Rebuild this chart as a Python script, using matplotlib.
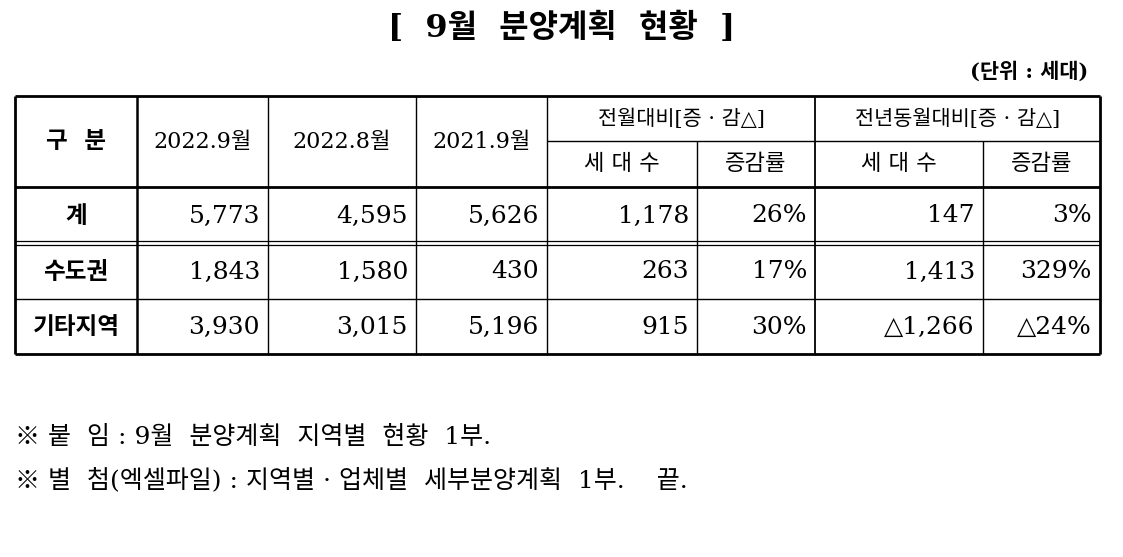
import matplotlib
matplotlib.use("Agg")
import matplotlib.pyplot as plt

plt.rcParams['font.family'] = ['DejaVu Serif', 'Noto Sans CJK KR', 'DejaVu Sans']

# table data
row_labels = ["계", "수도권", "기타지역"]
col_2022_9 = ["5,773", "1,843", "3,930"]
col_2022_8 = ["4,595", "1,580", "3,015"]
col_2021_9 = ["5,626", "430", "5,196"]
mom_units = ["1,178", "263", "915"]
mom_rate = ["26%", "17%", "30%"]
yoy_units = ["147", "1,413", "△1,266"]
yoy_rate = ["3%", "329%", "△24%"]

title = "[  9월  분양계획  현황  ]"
unit_note = "(단위 : 세대)"
notes = ["※ 붙  임 : 9월  분양계획  지역별  현황  1부.",
         "※ 별  첨(엑셀파일) : 지역별 · 업체별  세부분양계획  1부.    끝."]

W, H = 1123, 557
fig = plt.figure(figsize=(W / 100, H / 100), dpi=100)
ax = fig.add_axes([0, 0, 1, 1])
ax.set_xlim(0, W)
ax.set_ylim(H, 0)
ax.axis("off")

xs = [15, 137, 268, 416, 547, 697, 815, 983, 1100]
top, mid, hdr, r1, r2, bot = 96, 141, 187, 243, 299, 354
rows_y = [hdr, r1, r2, bot]

def hline(y, x0, x1, lw=1.2):
    ax.plot([x0, x1], [y, y], color="black", lw=lw, solid_capstyle="butt")

def vline(x, y0, y1, lw=1.2):
    ax.plot([x, x], [y0, y1], color="black", lw=lw, solid_capstyle="butt")

hline(top, xs[0], xs[-1], 2)
hline(bot, xs[0], xs[-1], 2)
hline(hdr, xs[0], xs[-1], 2)
hline(mid, xs[4], xs[-1], 1)
hline(r1 - 2, xs[0], xs[-1], 0.9)
hline(r1 + 2, xs[0], xs[-1], 0.9)
hline(r2, xs[0], xs[-1], 1)
vline(xs[0], top, bot, 2)
vline(xs[-1], top, bot, 2)
vline(xs[1], top, bot, 1.8)
for x in xs[2:5]:
    vline(x, top, bot, 1)
vline(xs[6], top, bot, 1.3)
vline(xs[5], mid, bot, 1)
vline(xs[7], mid, bot, 1)

ax.text(W / 2, 28, title, ha="center", va="center", fontsize=23, fontweight="bold")
ax.text(1088, 72, unit_note, ha="right", va="center", fontsize=15, fontweight="bold")

hy = (top + hdr) / 2
ax.text((xs[0] + xs[1]) / 2, hy, "구  분", ha="center", va="center", fontsize=17, fontweight="bold")
for i, lab in enumerate(["2022.9월", "2022.8월", "2021.9월"]):
    ax.text((xs[i + 1] + xs[i + 2]) / 2, hy, lab, ha="center", va="center", fontsize=16)
ax.text((xs[4] + xs[6]) / 2, (top + mid) / 2, "전월대비[증 · 감△]", ha="center", va="center", fontsize=15)
ax.text((xs[6] + xs[8]) / 2, (top + mid) / 2, "전년동월대비[증 · 감△]", ha="center", va="center", fontsize=15)
for i, lab in enumerate(["세 대 수", "증감률", "세 대 수", "증감률"]):
    ax.text((xs[4 + i] + xs[5 + i]) / 2, (mid + hdr) / 2, lab, ha="center", va="center", fontsize=16)

cols = [col_2022_9, col_2022_8, col_2021_9, mom_units, mom_rate, yoy_units, yoy_rate]
for r in range(3):
    cy = (rows_y[r] + rows_y[r + 1]) / 2 + 1
    ax.text((xs[0] + xs[1]) / 2, cy, row_labels[r], ha="center", va="center", fontsize=17, fontweight="bold")
    for c, col in enumerate(cols):
        ax.text(xs[c + 2] - 8, cy, col[r], ha="right", va="center", fontsize=18)

ax.text(15, 437, notes[0], ha="left", va="center", fontsize=18)
ax.text(15, 480, notes[1], ha="left", va="center", fontsize=18)

fig.savefig("out.png", dpi=100)
